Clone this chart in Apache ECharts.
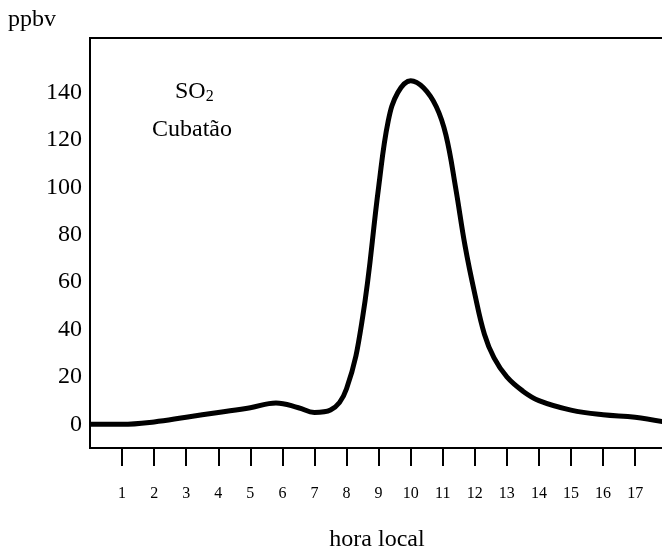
<!DOCTYPE html>
<html><head><meta charset="utf-8">
<script src="https://cdn.jsdelivr.net/npm/echarts@6/dist/echarts.min.js"></script>
<style>html,body{margin:0;padding:0;background:#fff}#c{width:662px;height:549px}</style>
</head><body><div id="c"></div>
<script>
var hours = [0, 1, 2, 3, 4, 5, 5.8, 6.5, 7, 7.5, 8, 8.5, 9, 9.3, 9.6, 10, 10.4, 10.8, 11.1, 11.4, 11.7, 12, 12.3, 12.6, 13, 13.5, 14, 15, 16, 17, 17.9];
var so2 = [0, 0, 1, 3, 5, 7, 9, 7, 5, 6, 15, 45, 100, 128, 140, 145, 142, 134, 122, 100, 75, 55, 38, 28, 20, 14, 10, 6, 4, 3, 1];
var xTicks = [1,2,3,4,5,6,7,8,9,10,11,12,13,14,15,16,17];

var chart = echarts.init(document.getElementById('c'));
var font = '"Liberation Serif", "Times New Roman", serif';
chart.setOption({
    animation: false,
    textStyle: {fontFamily: font, color: '#000'},
    grid: {left: 90, right: -2, top: 38, bottom: 101, show: true, borderColor: '#000', borderWidth: 2,
        outerBoundsMode: 'none', containLabel: false},
    xAxis: {
        type: 'value', min: 0, max: 17.9, interval: 1,
        axisLine: {show: false, onZero: false},
        axisTick: {show: true, inside: false, length: 18, customValues: xTicks, lineStyle: {color: '#000', width: 2}},
        axisLabel: {fontSize: 16, fontFamily: font, color: '#000', margin: 38, customValues: xTicks},
        splitLine: {show: false},
        name: 'hora local', nameLocation: 'middle', nameGap: 80,
        nameTextStyle: {fontSize: 24, fontFamily: font, color: '#000'}
    },
    yAxis: {
        type: 'value', min: -10, max: 163, interval: 10,
        axisLine: {show: false}, axisTick: {show: false}, splitLine: {show: false},
        axisLabel: {fontSize: 24, fontFamily: font, color: '#000', margin: 8,
            formatter: function (v) { return (v >= 0 && v % 20 === 0 && v <= 140) ? String(v) : ''; }}
    },
    graphic: [
        {type: 'text', left: 8, top: 8, style: {text: 'ppbv', fontSize: 24, fontFamily: font, fill: '#000'}},
        {type: 'text', left: 175, top: 80, style: {text: '{a|SO}{b|2}', rich: {
            a: {fontSize: 24, fontFamily: font, color: '#000'},
            b: {fontSize: 16, fontFamily: font, color: '#000', padding: [10, 0, 0, 0]}}}},
        {type: 'text', left: 152, top: 118, style: {text: 'Cubatão', fontSize: 24, fontFamily: font, fill: '#000'}}
    ],
    series: [{
        type: 'line', smooth: 0.4, showSymbol: false,
        data: hours.map(function (h, i) { return [h, so2[i]]; }),
        lineStyle: {color: '#000', width: 5}
    }]
});
</script></body></html>
